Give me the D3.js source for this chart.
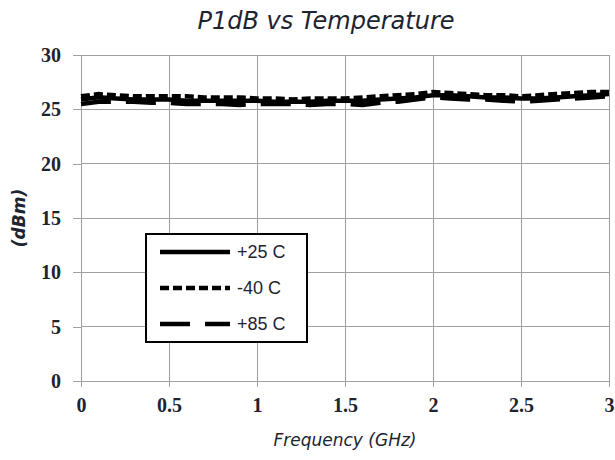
<!DOCTYPE html>
<html><head><meta charset="utf-8">
<script src="https://cdn.jsdelivr.net/npm/d3@7"></script>
<style>body{margin:0;background:#fff}</style>
</head><body>
<script>
const freq = [0,0.1,0.2,0.3,0.4,0.5,0.6,0.7,0.8,0.9,1.0,1.1,1.2,1.3,1.4,1.5,1.6,1.7,1.8,1.9,2.0,2.1,2.2,2.3,2.4,2.5,2.6,2.7,2.8,2.9,3.0];
const p25 = [25.9,26.1,26.0,25.9,25.9,25.9,25.8,25.8,25.8,25.8,25.8,25.7,25.7,25.7,25.8,25.8,25.8,25.9,26.0,26.1,26.3,26.3,26.2,26.1,26.1,26.0,26.0,26.1,26.2,26.3,26.4];
const m40 = [26.2,26.4,26.3,26.2,26.2,26.2,26.2,26.1,26.1,26.1,26.0,26.0,25.9,26.0,26.0,26.0,26.1,26.2,26.3,26.4,26.6,26.5,26.4,26.3,26.3,26.2,26.3,26.4,26.5,26.6,26.6];
const p85 = [25.5,25.7,25.7,25.7,25.6,25.6,25.5,25.5,25.5,25.4,25.5,25.5,25.5,25.4,25.5,25.5,25.4,25.6,25.7,25.9,26.1,26.0,25.9,25.9,25.8,25.7,25.8,25.9,26.0,26.1,26.2];
const xTicks = [0,0.5,1,1.5,2,2.5,3];
const yTicks = [0,5,10,15,20,25,30];
const seriesNames = ["+25 C","-40 C","+85 C"];

const W=615,H=460;
const svg=d3.select("body").append("svg").attr("width",W).attr("height",H);
const x=d3.scaleLinear().domain([0,3]).range([81,609]);
const y=d3.scaleLinear().domain([0,30]).range([381,55]);
const grid="#a0a0a0";
const ink="#1e2330";
svg.append("g").selectAll("line").data(yTicks).join("line")
  .attr("x1",x(0)).attr("x2",x(3)).attr("y1",d=>y(d)).attr("y2",d=>y(d))
  .attr("stroke",grid).attr("stroke-width",1).attr("shape-rendering","crispEdges");
svg.append("g").selectAll("line").data(xTicks).join("line")
  .attr("x1",d=>x(d)).attr("x2",d=>x(d)).attr("y1",y(0)).attr("y2",y(30))
  .attr("stroke",grid).attr("stroke-width",1).attr("shape-rendering","crispEdges");
const xa=svg.append("g").attr("transform",`translate(0,${y(0)})`)
  .call(d3.axisBottom(x).tickValues(xTicks).tickSize(6).tickPadding(11).tickFormat(d=>String(d)));
const ya=svg.append("g").attr("transform",`translate(${x(0)},0)`)
  .call(d3.axisLeft(y).tickValues(yTicks).tickSize(8).tickPadding(12));
[xa,ya].forEach(a=>{
  a.selectAll("path,line").attr("stroke",grid).attr("shape-rendering","crispEdges");
  a.selectAll("text").attr("font-family","'Liberation Serif','DejaVu Serif',serif")
   .attr("font-weight","bold").attr("font-size",20).attr("fill",ink);
});
ya.select(".domain").attr("d",`M0,${y(30)}V${y(0)}`);
xa.select(".domain").attr("d",`M${x(0)-8},0H${x(3)}`);

const line=d3.line().x((d,i)=>x(freq[i])).y(d=>y(d));
const styles=[null,"9,4","30,15"];
const data=[p25,m40,p85];
data.forEach((s,k)=>{
  svg.append("path").datum(s).attr("d",line).attr("fill","none")
    .attr("stroke","#000").attr("stroke-width",4.5)
    .attr("stroke-dasharray",styles[k]);
});

const lg=svg.append("g");
lg.append("rect").attr("x",146).attr("y",234).attr("width",161).attr("height",108)
  .attr("fill","#fff").attr("stroke","#000").attr("stroke-width",2);
seriesNames.forEach((n,k)=>{
  const yy=252+k*36;
  lg.append("line").attr("x1",160).attr("x2",230).attr("y1",yy).attr("y2",yy)
    .attr("stroke","#000").attr("stroke-width",4.5).attr("stroke-dasharray",styles[k]);
  lg.append("text").attr("x",237).attr("y",yy+6).text(n)
    .attr("font-family","'Liberation Sans',Arial,sans-serif").attr("font-size",18).attr("fill",ink);
});

svg.append("text").attr("x",326).attr("y",29).attr("text-anchor","middle")
  .attr("font-family","'DejaVu Sans',sans-serif").attr("font-style","italic")
  .attr("font-size",24).attr("fill",ink).text("P1dB vs Temperature");
svg.append("text").attr("x",345).attr("y",446).attr("text-anchor","middle")
  .attr("font-family","'DejaVu Sans',sans-serif").attr("font-style","italic")
  .attr("font-size",17).attr("fill",ink).text("Frequency (GHz)");
svg.append("text").attr("transform","translate(25,218) rotate(-90)").attr("text-anchor","middle")
  .attr("font-family","'DejaVu Sans',sans-serif").attr("font-style","italic").attr("font-weight","bold")
  .attr("font-size",17).attr("fill",ink).text("(dBm)");
</script>
</body></html>
